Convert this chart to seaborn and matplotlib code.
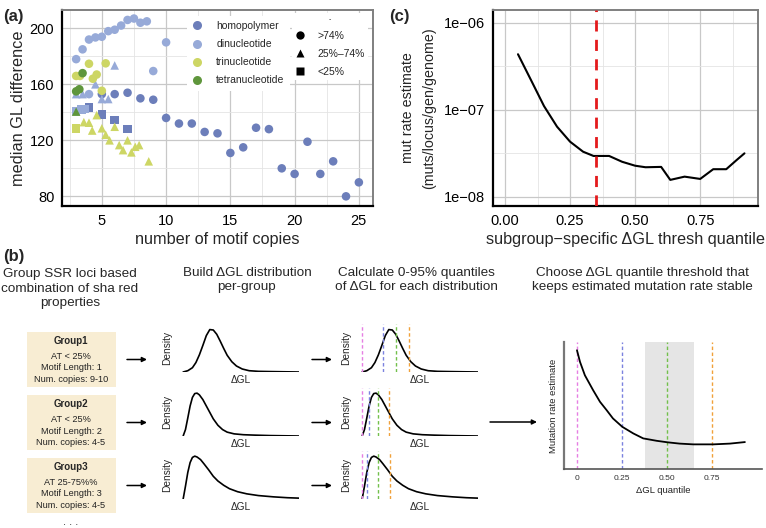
import matplotlib
matplotlib.use("Agg")
import matplotlib.pyplot as plt
import numpy as np
import pandas as pd
import seaborn as sns
from matplotlib.lines import Line2D
from matplotlib.patches import Rectangle
from matplotlib.ticker import AutoMinorLocator, FixedLocator, NullFormatter

# ---------------- panel (a): median GL difference vs motif copies ----------------
homo_o_x = [5, 6, 7, 8, 9, 10, 11, 12, 13, 14, 15, 16, 17, 18, 19, 20, 21, 22, 23, 24, 25]
homo_o_y = [153, 153, 154, 150, 149, 136, 132, 132, 126, 125, 111, 115, 129, 128, 100, 96, 119, 96, 105, 80, 90]
homo_s_x = [4, 5, 6, 7]
homo_s_y = [143.5, 138.5, 134.5, 128]

di_o_x = [3, 3.5, 4, 4.5, 5, 5.5, 6, 6.5, 7, 7.5, 8, 8.5, 9, 10, 4]
di_o_y = [178, 185, 192, 193.5, 194, 198, 199, 202, 206, 207, 204, 205, 169.5, 190, 153]
di_t_x = [3, 3.5, 4.5, 5, 5.5, 6]
di_t_y = [153, 153, 160, 149.5, 149.5, 173.5]
di_s_x = [3, 3.4, 3.7]
di_s_y = [141, 142, 142.5]

tri_o_x = [3, 3.3, 4, 4.3, 4.6, 5, 5.3]
tri_o_y = [166, 166, 174.7, 164, 167, 155.4, 175]
tri_t_x = [3.6, 4, 4.25, 4.6, 5, 5.3, 5.6, 6, 6.35, 6.65, 7, 7.3, 7.6, 7.9, 8.65]
tri_t_y = [133, 132.6, 127, 138, 128.6, 124, 120, 129.7, 116.6, 113, 120, 111.4, 115.4, 116.6, 105]
tri_s_x = [3]
tri_s_y = [128.6]

tetra_o_x = [3, 3.25, 3.5]
tetra_o_y = [155, 156.5, 168]
tetra_t_x = [3]
tetra_t_y = [140.5]

motif_order = ["homopolymer", "dinucleotide", "trinucleotide", "tetranucleotide"]
motif_colors = ["#6C7EBA", "#97AAD8", "#CDD664", "#5F963C"]
at_order = [">74%", "25%\u201374%", "<25%"]
at_markers = ["o", "^", "s"]

# ---------------- panel (c): mutation rate vs quantile threshold ----------------
thresh_quantile = [0.05, 0.10, 0.15, 0.20, 0.25, 0.30, 0.34, 0.40, 0.45, 0.50, 0.54,
                   0.60, 0.635, 0.69, 0.75, 0.80, 0.85, 0.89, 0.92]
mut_rate = [4.34e-7, 2.19e-7, 1.10e-7, 6.38e-8, 4.29e-8, 3.29e-8, 2.94e-8, 2.94e-8, 2.52e-8,
            2.27e-8, 2.18e-8, 2.20e-8, 1.56e-8, 1.70e-8, 1.60e-8, 2.07e-8, 2.07e-8, 2.64e-8, 3.15e-8]
chosen_quantile = 0.35
c_ticklabels = ["1e\u221206", "1e\u221207", "1e\u221208"]

# ---------------- panel (b): schematic ----------------
group_titles = ["Group1", "Group2", "Group3"]
group_lines = [["AT < 25%", "Motif Length: 1", "Num. copies: 9-10"],
               ["AT < 25%", "Motif Length: 2", "Num. copies: 4-5"],
               ["AT 25-75%%", "Motif Length: 3", "Num. copies: 4-5"]]

# schematic density curves (normalised dGL, normalised density)
dens1_x = [0.00, 0.04, 0.08, 0.11, 0.14, 0.17, 0.20, 0.23, 0.26, 0.29, 0.32, 0.35, 0.38, 0.42, 0.46, 0.51, 0.57, 0.65, 0.75, 1.00]
dens1_y = [0.00, 0.03, 0.10, 0.22, 0.40, 0.62, 0.85, 0.99, 0.98, 0.88, 0.72, 0.55, 0.39, 0.24, 0.14, 0.07, 0.03, 0.015, 0.01, 0.00]
dens2_x = [0.00, 0.02, 0.04, 0.06, 0.08, 0.10, 0.12, 0.14, 0.17, 0.20, 0.23, 0.26, 0.30, 0.34, 0.38, 0.44, 0.52, 0.62, 0.75, 1.00]
dens2_y = [0.00, 0.15, 0.42, 0.70, 0.90, 0.99, 1.00, 0.96, 0.85, 0.70, 0.55, 0.40, 0.25, 0.15, 0.09, 0.05, 0.03, 0.02, 0.01, 0.00]
dens3_x = [0.00, 0.02, 0.04, 0.06, 0.08, 0.10, 0.12, 0.15, 0.18, 0.22, 0.26, 0.30, 0.35, 0.40, 0.47, 0.55, 0.65, 0.78, 0.90, 1.00]
dens3_y = [0.00, 0.30, 0.62, 0.85, 0.97, 1.00, 0.98, 0.92, 0.82, 0.68, 0.53, 0.42, 0.32, 0.24, 0.17, 0.12, 0.08, 0.05, 0.03, 0.02]
dens_x = [dens1_x, dens2_x, dens3_x]
dens_y = [dens1_y, dens2_y, dens3_y]

# quantile positions (0, 25, 50, 75%) in normalised dGL per group
group_quantiles = [[0.0, 0.177, 0.29, 0.405],
                   [0.0, 0.057, 0.14, 0.233],
                   [0.0, 0.043, 0.14, 0.24]]
quant_colors = ["#E67FE3", "#7B82DF", "#72C04B", "#F0A13A"]

# schematic mutation-rate curve
mr_quantile = [0, 0.017, 0.044, 0.09, 0.128, 0.165, 0.2, 0.252, 0.313, 0.368, 0.443, 0.504, 0.57, 0.646, 0.757, 0.85, 0.933]
mr_estimate = [0.935, 0.843, 0.738, 0.62, 0.529, 0.463, 0.398, 0.332, 0.28, 0.241, 0.222, 0.21, 0.2, 0.194, 0.194, 0.2, 0.212]
stable_range = [0.378, 0.65]
mr_ticks = [0, 0.25, 0.50, 0.75]
mr_ticklabels = ["0", "0.25", "0.50", "0.75"]

# ---------------- figure ----------------
sns.set_style("white")
plt.rcParams["font.family"] = ["Liberation Sans", "DejaVu Sans"]

W, H = 766, 528
fig = plt.figure(figsize=(W / 100, H / 100), dpi=100)


def px_rect(l, t, r, b):
    return [l / W, 1 - b / H, (r - l) / W, (b - t) / H]


ov = fig.add_axes([0, 0, 1, 1])
ov.set_xlim(0, W)
ov.set_ylim(H, 0)
ov.axis("off")


def style_panel(ax):
    for s in ["left", "bottom"]:
        ax.spines[s].set_color("black")
        ax.spines[s].set_linewidth(1.6)
    for s in ["top", "right"]:
        ax.spines[s].set_color("#7F7F7F")
        ax.spines[s].set_linewidth(1.4)
    ax.tick_params(which="major", direction="out", length=3.5, width=1, colors="black",
                   labelsize=10.5, pad=2)
    ax.tick_params(which="minor", length=0)
    ax.grid(which="major", color="#C8C8C8", lw=0.9)
    ax.grid(which="minor", color="#E4E4E4", lw=0.6)
    ax.set_axisbelow(True)


# panel (a)
frames = []
for motif, sets in zip(motif_order, [
        [(homo_o_x, homo_o_y, 0), (homo_s_x, homo_s_y, 2)],
        [(di_o_x, di_o_y, 0), (di_t_x, di_t_y, 1), (di_s_x, di_s_y, 2)],
        [(tri_o_x, tri_o_y, 0), (tri_t_x, tri_t_y, 1), (tri_s_x, tri_s_y, 2)],
        [(tetra_o_x, tetra_o_y, 0), (tetra_t_x, tetra_t_y, 1)]]):
    for xs, ys, k in sets:
        frames.append(pd.DataFrame({"copies": xs, "gl_diff": ys, "motif": motif, "at": at_order[k]}))
df_a = pd.concat(frames, ignore_index=True)

ax_a = fig.add_axes(px_rect(62, 10, 373, 206))
sns.scatterplot(data=df_a, x="copies", y="gl_diff", hue="motif", style="at",
                hue_order=motif_order, style_order=at_order,
                palette=dict(zip(motif_order, motif_colors)),
                markers=dict(zip(at_order, at_markers)),
                s=38, linewidth=0, legend=False, ax=ax_a, zorder=3)
ax_a.set_xlim(1.9, 26.1)
ax_a.set_ylim(73.1, 213.1)
ax_a.xaxis.set_major_locator(FixedLocator([5, 10, 15, 20, 25]))
ax_a.yaxis.set_major_locator(FixedLocator([80, 120, 160, 200]))
ax_a.xaxis.set_minor_locator(AutoMinorLocator(2))
ax_a.yaxis.set_minor_locator(AutoMinorLocator(2))
style_panel(ax_a)
ax_a.set_xlabel("number of motif copies", fontsize=11.7, labelpad=3)
ax_a.set_ylabel("median GL difference", fontsize=11.7, labelpad=3)

color_handles = [Line2D([], [], ls="", marker="o", ms=6.5, mfc=c, mec="none") for c in motif_colors]
leg1 = ax_a.legend(color_handles, motif_order, loc="upper left", bbox_to_anchor=(0.402, 0.97),
                   fontsize=7.5, frameon=True, facecolor="white", edgecolor="none", framealpha=1,
                   fancybox=False, borderpad=0.5, labelspacing=0.78, handlelength=1.0,
                   handletextpad=1.3, borderaxespad=0)
ax_a.add_artist(leg1)
shape_handles = [Line2D([], [], ls="", marker=m, ms=6, mfc="black", mec="none") for m in at_markers]
leg2 = ax_a.legend(shape_handles, at_order, title="-", title_fontsize=5, loc="upper left",
                   bbox_to_anchor=(0.739, 0.985), fontsize=7.5, frameon=True, facecolor="white",
                   edgecolor="none", framealpha=1, fancybox=False, borderpad=0.3,
                   labelspacing=0.75, handlelength=1.0, handletextpad=1.2, borderaxespad=0)

# panel (c)
ax_c = fig.add_axes(px_rect(493, 10, 758, 206))
sns.lineplot(x=thresh_quantile, y=mut_rate, color="black", lw=1.5, ax=ax_c, zorder=3)
ax_c.set_yscale("log")
ax_c.axvline(chosen_quantile, color="#E41A1C", ls=(0, (4, 3)), lw=2, zorder=4)
ax_c.set_xlim(-0.046, 0.972)
ax_c.set_ylim(10 ** -8.107, 10 ** -5.854)
ax_c.xaxis.set_major_locator(FixedLocator([0, 0.25, 0.5, 0.75]))
ax_c.set_xticklabels(["0.00", "0.25", "0.50", "0.75"])
ax_c.xaxis.set_minor_locator(FixedLocator([0.125, 0.375, 0.625, 0.875]))
ax_c.yaxis.set_major_locator(FixedLocator([1e-6, 1e-7, 1e-8]))
ax_c.set_yticklabels(c_ticklabels)
ax_c.yaxis.set_minor_locator(FixedLocator([10 ** -6.5, 10 ** -7.5]))
ax_c.yaxis.set_minor_formatter(NullFormatter())
style_panel(ax_c)
ax_c.set_xlabel("subgroup\u2212specific \u0394GL thresh quantile", fontsize=11.7, labelpad=3)
ax_c.set_ylabel("mut rate estimate\n(muts/locus/gen/genome)", fontsize=10.3, labelpad=6,
                linespacing=1.6)

# panel labels
ov.text(3, 16, "(a)", fontsize=12, fontweight="bold", va="center", ha="left")
ov.text(3, 257, "(b)", fontsize=12, fontweight="bold", va="center", ha="left")
ov.text(389, 16, "(c)", fontsize=12, fontweight="bold", va="center", ha="left")

# panel (b) headers
hdr = dict(fontsize=9.7, ha="center", va="center", multialignment="center", linespacing=1.25)
ov.text(70, 288.5, "Group SSR loci based\ncombination of sha red\nproperties", **hdr)
ov.text(247, 280, "Build \u0394GL distribution\nper-group", **hdr)
ov.text(416, 280, "Calculate 0-95% quantiles\nof \u0394GL for each distribution", **hdr)
ov.text(642, 280, "Choose \u0394GL quantile threshold that\nkeeps estimated mutation rate stable", **hdr)

box_tops = [332, 395, 458]
baselines = [372, 436, 499]
arrow_kw = dict(arrowstyle="-|>", color="black", lw=1.1, mutation_scale=7, shrinkA=0, shrinkB=0)
for i in range(3):
    top = box_tops[i]
    ov.add_patch(Rectangle((27, top), 89, 55, facecolor="#F8EDD3", edgecolor="none"))
    ov.text(71, top + 9, group_titles[i], fontsize=7, fontweight="bold", ha="center", va="center")
    for j, line in enumerate(group_lines[i]):
        ov.text(71, top + 24.7 + 11.3 * j, line, fontsize=6.6, ha="center", va="center", color="#222222")
    mid = top + 27.5
    ov.annotate("", xy=(147, mid), xytext=(127, mid), arrowprops=arrow_kw)
    ov.annotate("", xy=(332, mid), xytext=(312, mid), arrowprops=arrow_kw)

    base = baselines[i]
    for col, left in enumerate([182, 361]):
        ax_d = fig.add_axes(px_rect(left, base - 48, left + 117, base))
        ax_d.plot(dens_x[i], dens_y[i], color="black", lw=1.2, solid_joinstyle="round")
        if col == 1:
            for q, qc in zip(group_quantiles[i], quant_colors):
                ax_d.axvline(q, color=qc, ls=(0, (2.5, 1.8)), lw=1.0)
        ax_d.set_xlim(-0.01, 1.0)
        ax_d.set_ylim(0, 1.12)
        ax_d.axis("off")
        ax_d.text(-0.13, 0.5, "Density", rotation=90, fontsize=7.3, ha="center", va="center",
                  transform=ax_d.transAxes)
        ax_d.text(0.5, -0.17, "\u0394GL", fontsize=7.3, ha="center", va="center",
                  transform=ax_d.transAxes)

ov.text(71, 522, ". . .", fontsize=8, ha="center", va="center")
ov.annotate("", xy=(537, 422), xytext=(490, 422), arrowprops=arrow_kw)

# final schematic panel
ax_f = fig.add_axes(px_rect(564, 342, 762, 469))
ax_f.axvspan(stable_range[0], stable_range[1], color="#E5E5E5", lw=0, zorder=0)
for q, qc in zip(mr_ticks, quant_colors):
    ax_f.axvline(q, color=qc, ls=(0, (2.5, 1.8)), lw=1.0, zorder=1)
sns.lineplot(x=mr_quantile, y=mr_estimate, color="black", lw=1.3, ax=ax_f, zorder=2)
ax_f.set_xlim(-0.072, 1.028)
ax_f.set_ylim(0, 1)
ax_f.set_xticks(mr_ticks)
ax_f.set_xticklabels(mr_ticklabels)
ax_f.set_yticks([])
ax_f.tick_params(axis="x", length=0, labelsize=6, pad=4, colors="#333333")
for s in ["top", "right"]:
    ax_f.spines[s].set_visible(False)
ax_f.spines["left"].set_color("#777777")
ax_f.spines["left"].set_linewidth(1.6)
ax_f.spines["bottom"].set_color("#555555")
ax_f.spines["bottom"].set_linewidth(1.2)
ax_f.set_xlabel("\u0394GL quantile", fontsize=6.8, labelpad=3, color="#222222")
ax_f.set_ylabel("Mutation rate estimate", fontsize=6.8, labelpad=4, color="#222222")

fig.savefig("out.png", dpi=100)
